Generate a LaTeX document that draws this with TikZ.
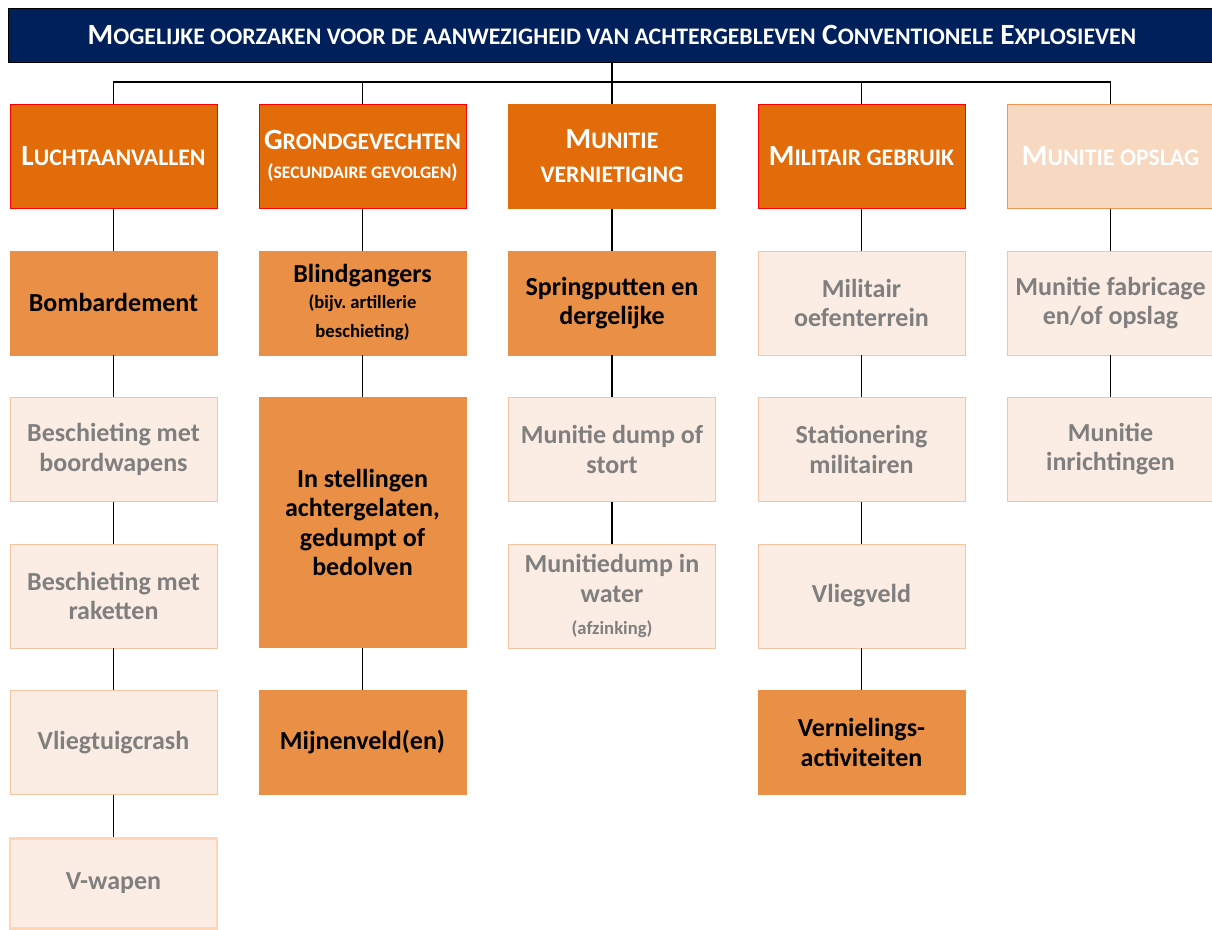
\documentclass[tikz,border=0pt]{standalone}
\usepackage{fontspec}
\setmainfont{Carlito}
\usetikzlibrary{positioning}
\definecolor{navy}{RGB}{0,32,91}
\definecolor{oranje}{RGB}{227,108,10}
\definecolor{oranjemid}{RGB}{233,143,70}
\definecolor{perzik}{RGB}{247,216,192}
\definecolor{perzikrand}{RGB}{240,150,80}
\definecolor{licht}{RGB}{251,237,227}
\definecolor{lichtrand}{RGB}{246,196,160}
\definecolor{vrand}{RGB}{252,214,182}
\definecolor{grijs}{RGB}{127,127,127}
% kleine hoofdletters voor titel en koppen
\newcommand\tk[1]{{\fontsize{17.8}{19}\selectfont #1}}
\newcommand\kk[1]{{\fontsize{17.8}{19}\selectfont #1}}

\begin{document}
\frenchspacing
\begin{tikzpicture}[x=0.75pt,y=-0.75pt,node distance=31.5pt,font=\bfseries]
\tikzset{
  kop/.style={draw=red,line width=0.75pt,fill=oranje,text=white,align=flush center,minimum width=155.25pt,minimum height=78pt,inner sep=0pt,font=\bfseries\fontsize{22}{25}\selectfont},
  kopvaag/.style={kop,draw=perzikrand,fill=perzik},
  donker/.style={draw=oranjemid,fill=oranjemid,text=black,align=flush center,text width=152pt,minimum width=155.25pt,minimum height=78pt,inner sep=0pt,font=\bfseries\fontsize{19.5}{22}\selectfont},
  licht/.style={donker,draw=lichtrand,fill=licht,text=grijs},
  lijn/.style={draw=black,line width=0.9pt}
}
\useasboundingbox (0,0) rectangle (1212,929);
\node(titel)[fill=navy,draw=black,line width=0.6pt,text=white,minimum width=906pt,minimum height=40.5pt,inner sep=0pt,font=\bfseries\fontsize{22}{22}\selectfont] at (612,35)
  {M\tk{OGELIJKE OORZAKEN VOOR DE AANWEZIGHEID VAN ACHTERGEBLEVEN} C\tk{ONVENTIONELE} E\tk{XPLOSIEVEN}};
\coordinate(bus) at (612,82);
% koppen
\node(k1)[kop] at (113.5,156) {L\kk{UCHTAANVALLEN}};
\node(k2)[kop] at (362.5,156) {G\kk{RONDGEVECHTEN}\\[-3pt]{\fontsize{15}{17}\selectfont (\fontsize{13.2}{17}\selectfont SECUNDAIRE GEVOLGEN\fontsize{15}{17}\selectfont)}};
\node(k3)[kop,draw=oranje] at (612,156) {M\kk{UNITIE}\\[0pt]\kk{VERNIETIGING}};
\node(k4)[kop] at (861.5,156) {M\kk{ILITAIR GEBRUIK}};
\node(k5)[kopvaag] at (1110.5,156) {M\kk{UNITIE OPSLAG}};
% kolom 1
\node(a1)[donker,below=of k1]{Bombardement};
\node(a2)[licht,below=of a1]{Beschieting met\\boordwapens};
\node(a3)[licht,below=of a2]{Beschieting met\\raketten};
\node(a4)[licht,below=of a3]{Vliegtuigcrash};
\node(a5)[licht,below=of a4,draw=vrand,line width=2.2pt,minimum height=68pt]{V-wapen};
% kolom 2
\node(b1)[donker,below=of k2]{Blindgangers\\[2pt]{\fontsize{14}{17}\selectfont (bijv. artillerie\\beschieting)}};
\node(b2)[donker,below=of b1,minimum height=187.5pt]{In stellingen\\achtergelaten,\\gedumpt of\\bedolven};
\node(b3)[donker,below=of b2]{Mijnenveld(en)};
% kolom 3
\node(c1)[donker,below=of k3]{Springputten en\\dergelijke};
\node(c2)[licht,below=of c1]{Munitie dump of\\stort};
\node(c3)[licht,below=of c2]{Munitiedump in\\water\\[2pt]{\fontsize{14}{17}\selectfont (afzinking)}};
% kolom 4
\node(d1)[licht,below=of k4]{Militair\\oefenterrein};
\node(d2)[licht,below=of d1]{Stationering\\militairen};
\node(d3)[licht,below=of d2]{Vliegveld};
\node(d4)[donker,below=of d3]{Vernielings-\\activiteiten};
% kolom 5
\node(e1)[licht,below=of k5]{Munitie fabricage\\en/of opslag};
\node(e2)[licht,below=of e1]{Munitie\\inrichtingen};
% verbindingen
\draw[lijn](titel.south)--(bus);
\foreach \k in {k1,k2,k3,k4,k5} \draw[lijn](bus)-|(\k.north);
\draw[lijn](k1)--(a1); \draw[lijn](a1)--(a2); \draw[lijn](a2)--(a3); \draw[lijn](a3)--(a4); \draw[lijn](a4)--(a5);
\draw[lijn](k2)--(b1); \draw[lijn](b1)--(b2); \draw[lijn](b2)--(b3);
\draw[lijn](k3)--(c1); \draw[lijn](c1)--(c2); \draw[lijn](c2)--(c3);
\draw[lijn](k4)--(d1); \draw[lijn](d1)--(d2); \draw[lijn](d2)--(d3); \draw[lijn](d3)--(d4);
\draw[lijn](k5)--(e1); \draw[lijn](e1)--(e2);
\end{tikzpicture}
\end{document}
